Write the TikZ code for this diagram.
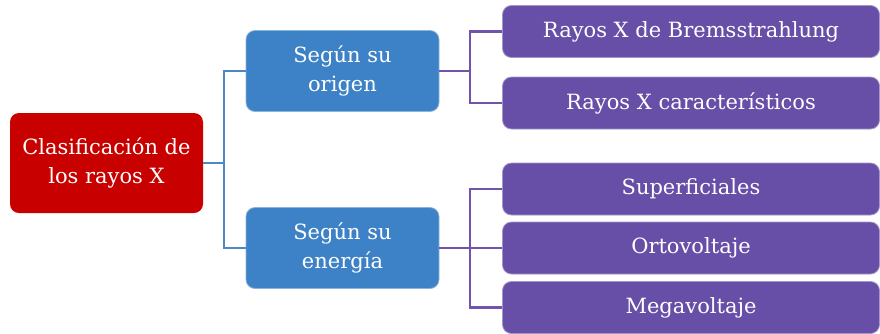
\documentclass[tikz,border=0pt]{standalone}
\usepackage{fontspec}
\setmainfont{DejaVu Serif}
\definecolor{redbox}{HTML}{C80000}
\definecolor{bluebox}{HTML}{3D82C6}
\definecolor{purplebox}{HTML}{674EA7}
\definecolor{blueline}{HTML}{4A88C8}
\definecolor{purpleline}{HTML}{7153AC}
\tikzset{
  box/.style={rounded corners=9pt, text=white, align=center, inner sep=0pt, font=\fontsize{21}{29}\selectfont},
  rootbox/.style={box, fill=redbox, minimum width=193pt, minimum height=100pt},
  midbox/.style={box, fill=bluebox, draw=bluebox!60!white, line width=0.8pt, minimum width=193pt, minimum height=81pt},
  leafbox/.style={box, fill=purplebox, draw=purplebox!60!white, line width=0.8pt, minimum width=377pt, minimum height=52pt},
  bline/.style={blueline, line width=2.4pt},
  pline/.style={purpleline, line width=2.4pt},
}
\begin{document}
\begin{tikzpicture}[x=1pt,y=-1pt]
\useasboundingbox (0,0) rectangle (880,333);
\node[rootbox] (root) at (106.5,163) {Clasificación de\\los rayos X};
\node[midbox] (orig) at (342.5,71) {Según su\\origen};
\node[midbox] (ener) at (342.5,248) {Según su\\energía};
\node[leafbox] (l1) at (691,31.5) {Rayos X de Bremsstrahlung};
\node[leafbox] (l2) at (691,103) {Rayos X característicos};
\node[leafbox] (l3) at (691,189) {Superficiales};
\node[leafbox] (l4) at (691,248) {Ortovoltaje};
\node[leafbox] (l5) at (691,307.5) {Megavoltaje};
\coordinate (j1) at (224,163);
\coordinate (j2) at (470,71);
\coordinate (j3) at (470,248);
\draw[bline] (root.east) -- (j1);
\draw[bline] (orig.west) -- (orig.west -| j1) -- (ener.west -| j1) -- (ener.west);
\draw[pline] (orig.east) -- (j2);
\draw[pline] (l1.west) -- (l1.west -| j2) -- (l2.west -| j2) -- (l2.west);
\draw[pline] (ener.east) -- (j3);
\draw[pline] (l3.west) -- (l3.west -| j3) -- (l5.west -| j3) -- (l5.west);
\draw[pline] (j3) -- (l4.west);
\end{tikzpicture}
\end{document}
